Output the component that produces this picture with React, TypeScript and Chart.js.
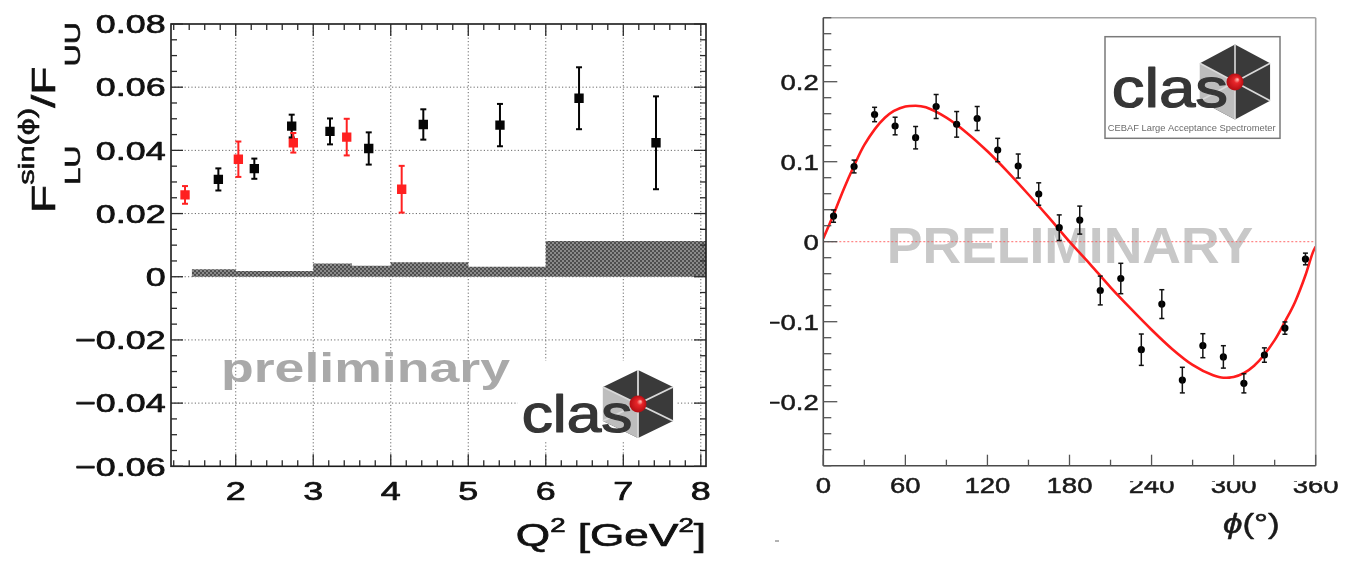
import React, { useEffect, useRef } from "react";
import { Chart, registerables } from "chart.js";

Chart.register(...registerables);

const FONT = '"Liberation Sans", Arial, Helvetica, sans-serif';

// ---------- Left panel: F_LU^{sin(phi)}/F_UU vs Q^2 ----------
const q2Black = [1.776, 2.24, 2.722, 3.216, 3.716, 4.42, 5.409, 6.429, 7.422];
const fluBlack = [0.0308, 0.0342, 0.0477, 0.046, 0.0406, 0.0482, 0.048, 0.0565, 0.0424];
const errBlack = [0.0035, 0.0032, 0.0036, 0.0041, 0.0051, 0.0048, 0.0067, 0.0098, 0.0147];
const q2Red = [1.346, 2.034, 2.743, 3.432, 4.141];
const fluRed = [0.0259, 0.0372, 0.0424, 0.0442, 0.0277];
const errRed = [0.0028, 0.0056, 0.0031, 0.0058, 0.0074];
const sysBinEdges = [1.432, 2.0, 3.0, 3.5, 4.0, 5.0, 6.0, 7.0, 8.067];
const sysBinValues = [0.003, 0.0024, 0.0018, 0.0042, 0.0035, 0.0046, 0.0032, 0.0113];
const leftYTicks = [0.08, 0.06, 0.04, 0.02, 0, -0.02, -0.04, -0.06];
const leftYTickLabels = ["0.08", "0.06", "0.04", "0.02", "0", "\u22120.02", "\u22120.04", "\u22120.06"];
const leftXTicks = [2, 3, 4, 5, 6, 7, 8];
const leftXTickLabels = ["2", "3", "4", "5", "6", "7", "8"];

// ---------- Right panel: asymmetry vs phi ----------
const phiBins = [7.5, 22.5, 37.5, 52.5, 67.5, 82.5, 97.5, 112.5, 127.5, 142.5, 157.5, 172.5, 187.5, 202.5, 217.5, 232.5, 247.5, 262.5, 277.5, 292.5, 307.5, 322.5, 337.5, 352.5];
const bsaValues = [0.032, 0.094, 0.159, 0.1446, 0.13, 0.169, 0.1467, 0.154, 0.1146, 0.0946, 0.0596, 0.0175, 0.027, -0.061, -0.046, -0.135, -0.078, -0.173, -0.13, -0.144, -0.177, -0.1417, -0.108, -0.0216];
const bsaErrors = [0.0077, 0.008, 0.009, 0.011, 0.014, 0.015, 0.016, 0.015, 0.0146, 0.015, 0.014, 0.016, 0.0175, 0.018, 0.019, 0.0196, 0.018, 0.016, 0.015, 0.014, 0.012, 0.009, 0.0077, 0.0073];
const fitPhi = [0, 7.5, 15, 22.5, 30, 45, 60, 67.5, 75, 90, 105, 120, 135, 150, 165, 180, 195, 210, 225, 240, 255, 270, 285, 292.5, 300, 315, 330, 337.5, 345, 352.5, 358, 360];
const fitValues = [0.004, 0.034, 0.066, 0.095, 0.121, 0.155, 0.169, 0.17, 0.168, 0.155, 0.136, 0.113, 0.087, 0.059, 0.03, 0.0, -0.028, -0.057, -0.084, -0.11, -0.134, -0.154, -0.167, -0.17, -0.169, -0.155, -0.123, -0.1, -0.075, -0.042, -0.013, -0.006];
const zeroLinePhi = [0, 360];
const zeroLineValues = [0, 0];
const rightYTicks = [0.2, 0.1, 0, -0.1, -0.2];
const rightYTickLabels = ["0.2", "0.1", "0", "\u22120.1", "\u22120.2"];
const rightXTicks = [0, 60, 120, 180, 240, 300, 360];
const rightXTickLabels = ["0", "60", "120", "180", "240", "300", "360"];

// ---------- helpers ----------
function seg(ctx: any, x1: number, y1: number, x2: number, y2: number) {
  ctx.beginPath();
  ctx.moveTo(x1, y1);
  ctx.lineTo(x2, y2);
  ctx.stroke();
}

function sText(ctx: any, text: string, x: number, y: number, font: string, sx: number, align: string, color: string, strokeW = 0) {
  ctx.save();
  ctx.font = font;
  ctx.textAlign = "left";
  ctx.textBaseline = "alphabetic";
  ctx.fillStyle = color;
  const w = ctx.measureText(text).width * sx;
  const x0 = align === "right" ? x - w : align === "center" ? x - w / 2 : x;
  ctx.translate(x0, y);
  ctx.scale(sx, 1);
  ctx.fillText(text, 0, 0);
  if (strokeW > 0) {
    ctx.strokeStyle = color;
    ctx.lineWidth = strokeW;
    ctx.lineJoin = "round";
    ctx.strokeText(text, 0, 0);
  }
  ctx.restore();
  return w;
}

// pieces: {t, font, dy}
function richText(ctx: any, pieces: any[], x: number, y: number, sx: number, align: string, color: string, strokeW = 0) {
  ctx.save();
  let total = 0;
  pieces.forEach((p) => {
    ctx.font = p.font;
    total += ctx.measureText(p.t).width * sx;
  });
  let cx = align === "right" ? x - total : align === "center" ? x - total / 2 : x;
  pieces.forEach((p) => {
    cx += sText(ctx, p.t, cx, y + (p.dy || 0), p.font, sx, "left", color, strokeW);
  });
  ctx.restore();
}

function drawLogo(ctx: any, cx: number, cy: number, R: number, hx: number, textLeft: number, textBase: number, fontPx: number, textSx: number, ballR: number) {
  ctx.save();
  ctx.translate(cx, cy);
  ctx.scale(hx, 1);
  const v: number[][] = [];
  for (let i = 0; i < 6; i++) {
    const a = ((-90 + 60 * i) * Math.PI) / 180;
    v.push([R * Math.cos(a), R * Math.sin(a)]);
  }
  ctx.beginPath();
  v.forEach((p, i) => (i === 0 ? ctx.moveTo(p[0], p[1]) : ctx.lineTo(p[0], p[1])));
  ctx.closePath();
  ctx.fillStyle = "#3a3a3a";
  ctx.fill();
  ctx.beginPath();
  ctx.moveTo(v[5][0], v[5][1]);
  ctx.lineTo(0, 0);
  ctx.lineTo(v[3][0], v[3][1]);
  ctx.lineTo(v[4][0], v[4][1]);
  ctx.closePath();
  ctx.fillStyle = "#bdbdbd";
  ctx.fill();
  ctx.strokeStyle = "#d9d9d9";
  ctx.lineWidth = 1.5;
  v.forEach((p) => seg(ctx, 0, 0, p[0], p[1]));
  ctx.restore();
  sText(ctx, "clas", textLeft, textBase, `${fontPx}px ${FONT}`, textSx, "left", "#363636", 1.2);
  ctx.save();
  const g = ctx.createRadialGradient(cx + ballR * 0.3, cy - ballR * 0.3, 0.5, cx, cy, ballR);
  g.addColorStop(0, "#ffb0a8");
  g.addColorStop(0.3, "#e8262a");
  g.addColorStop(1, "#b30d12");
  ctx.fillStyle = g;
  ctx.beginPath();
  ctx.arc(cx, cy, ballR, 0, Math.PI * 2);
  ctx.fill();
  ctx.restore();
}

const errorBars = {
  id: "errorBars",
  afterDatasetsDraw(chart: any) {
    const { ctx, scales } = chart;
    chart.data.datasets.forEach((ds: any) => {
      if (!ds.errors) return;
      ctx.save();
      ctx.strokeStyle = ds.errColor;
      ctx.lineWidth = ds.errWidth;
      ds.data.forEach((p: any, i: number) => {
        const e = ds.errors[i];
        const px = scales.x.getPixelForValue(p.x);
        const yt = scales.y.getPixelForValue(p.y + e);
        const yb = scales.y.getPixelForValue(p.y - e);
        seg(ctx, px, yt, px, yb);
        seg(ctx, px - ds.capHalf, yt, px + ds.capHalf, yt);
        seg(ctx, px - ds.capHalf, yb, px + ds.capHalf, yb);
      });
      ctx.restore();
    });
  },
};

// ---------- left decorations ----------
const leftDecor = {
  id: "leftDecor",
  beforeDatasetsDraw(chart: any) {
    const { ctx, chartArea: a, scales } = chart;
    const x = scales.x, y = scales.y;
    ctx.save();
    ctx.strokeStyle = "#6a6a6a";
    ctx.lineWidth = 1;
    ctx.setLineDash([1.2, 2.2]);
    leftXTicks.forEach((v) => {
      const px = x.getPixelForValue(v);
      seg(ctx, px, a.top, px, a.bottom);
    });
    leftYTicks.forEach((v) => {
      const py = y.getPixelForValue(v);
      if (py > a.top + 1 && py < a.bottom - 1) seg(ctx, a.left, py, a.right, py);
    });
    ctx.restore();
    sText(ctx, "preliminary", a.left + 50, a.top + 358, `bold 40px ${FONT}`, 1.34, "left", "#a9a9a9");
  },
  afterDatasetsDraw(chart: any) {
    const { ctx, chartArea: a, scales } = chart;
    const x = scales.x, y = scales.y;
    // logo
    ctx.save();
    ctx.fillStyle = "#ffffff";
    ctx.fillRect(a.left + 347, a.top + 337, 158, 80);
    ctx.restore();
    drawLogo(ctx, a.left + 467, a.top + 380, 34, 1.19, a.left + 350.7, a.top + 407.7, 51, 1.22, 8.5);
    // frame
    ctx.save();
    ctx.strokeStyle = "#1a1a1a";
    ctx.lineWidth = 1.6;
    ctx.strokeRect(a.left, a.top, a.right - a.left, a.bottom - a.top);
    ctx.lineWidth = 1.3;
    ctx.strokeStyle = "#2a2a2a";
    for (let k = -12; k <= 16; k++) {
      const py = y.getPixelForValue(k * 0.005);
      const L = k % 4 === 0 ? 12 : 6;
      seg(ctx, a.left, py, a.left + L, py);
      seg(ctx, a.right, py, a.right - L, py);
    }
    for (let k = 6; k <= 40; k++) {
      const px = x.getPixelForValue(k * 0.2);
      const L = k % 5 === 0 ? 12 : 6;
      seg(ctx, px, a.bottom, px, a.bottom - L);
      seg(ctx, px, a.top, px, a.top + L);
    }
    ctx.restore();
  },
  afterDraw(chart: any) {
    const { ctx, chartArea: a, scales } = chart;
    const x = scales.x, y = scales.y;
    const f = `26px ${FONT}`;
    leftYTicks.forEach((v, i) => {
      sText(ctx, leftYTickLabels[i], a.left - 5.3, y.getPixelForValue(v) + 9.3, f, 1.38, "right", "#111", 0.7);
    });
    leftXTicks.forEach((v, i) => {
      sText(ctx, leftXTickLabels[i], x.getPixelForValue(v), a.bottom + 33.5, f, 1.38, "center", "#111", 0.7);
    });
    // x title
    richText(
      ctx,
      [
        { t: "Q", font: `32px ${FONT}` },
        { t: "2", font: `20px ${FONT}`, dy: -14 },
        { t: " [GeV", font: `32px ${FONT}` },
        { t: "2", font: `20px ${FONT}`, dy: -14 },
        { t: "]", font: `32px ${FONT}` },
      ],
      a.right,
      a.bottom + 80,
      1.38,
      "right",
      "#111",
      0.7
    );
    // y title (rotated)
    ctx.save();
    ctx.translate(55, a.top + 189);
    ctx.rotate(-Math.PI / 2);
    ctx.scale(1.4, 1);
    ctx.fillStyle = "#111";
    ctx.strokeStyle = "#111";
    ctx.lineWidth = 0.6;
    ctx.textBaseline = "alphabetic";
    ctx.textAlign = "left";
    const put = (t: string, px: number, py: number) => {
      ctx.fillText(t, px, py);
      ctx.strokeText(t, px, py);
    };
    let cx = 0;
    ctx.font = `33px ${FONT}`;
    put("F", cx, 0);
    cx += ctx.measureText("F").width;
    ctx.font = `22px ${FONT}`;
    put("sin(\u03d5)", cx, -21);
    const supW = ctx.measureText("sin(\u03d5)").width;
    put("LU", cx, 25);
    const subW = ctx.measureText("LU").width;
    cx += Math.max(supW, subW);
    ctx.font = `33px ${FONT}`;
    put("/F", cx, 0);
    cx += ctx.measureText("/F").width;
    ctx.font = `22px ${FONT}`;
    put("UU", cx, 25);
    ctx.restore();
  },
};

// ---------- right decorations ----------
const rightDecor = {
  id: "rightDecor",
  beforeDatasetsDraw(chart: any) {
    const { ctx, chartArea: a } = chart;
    sText(ctx, "PRELIMINARY", a.left + 63.4, a.top + 245.3, `bold 50px ${FONT}`, 1.07, "left", "#c8c8c8");
  },
  afterDatasetsDraw(chart: any) {
    const { ctx, chartArea: a, scales } = chart;
    const x = scales.x, y = scales.y;
    // logo box
    ctx.save();
    ctx.fillStyle = "#ffffff";
    ctx.fillRect(a.left + 281.7, a.top + 19, 175, 101.6);
    ctx.strokeStyle = "#7a7a7a";
    ctx.lineWidth = 1.5;
    ctx.strokeRect(a.left + 281.7, a.top + 19, 175, 101.6);
    ctx.restore();
    drawLogo(ctx, a.left + 411.7, a.top + 64.3, 37.5, 1.08, a.left + 288.4, a.top + 89, 55, 1.19, 8.5);
    sText(ctx, "CEBAF Large Acceptance Spectrometer", a.left + 284.5, a.top + 112.8, `8.5px ${FONT}`, 1.1, "left", "#6a6a6a");
    // frame
    ctx.save();
    ctx.lineWidth = 1.6;
    ctx.strokeStyle = "#a3a3a3";
    seg(ctx, a.left, a.top, a.right, a.top);
    seg(ctx, a.right, a.top, a.right, a.bottom);
    ctx.strokeStyle = "#4a4a4a";
    seg(ctx, a.left, a.top, a.left, a.bottom);
    seg(ctx, a.left, a.bottom, a.right, a.bottom);
    ctx.lineWidth = 1.3;
    ctx.strokeStyle = "#555";
    for (let k = -14; k <= 14; k++) {
      const py = y.getPixelForValue(k * 0.02);
      const L = k % 5 === 0 ? 14 : 8;
      seg(ctx, a.left, py, a.left + L, py);
    }
    for (let k = 0; k <= 12; k++) {
      const px = x.getPixelForValue(k * 30);
      const L = k % 2 === 0 ? 11 : 6;
      seg(ctx, px, a.bottom, px, a.bottom - L);
    }
    ctx.restore();
  },
  afterDraw(chart: any) {
    const { ctx, chartArea: a, scales, width } = chart;
    const x = scales.x, y = scales.y;
    const f = `22px ${FONT}`;
    rightYTicks.forEach((v, i) => {
      sText(ctx, rightYTickLabels[i], a.left - 4.5, y.getPixelForValue(v) + 7.9, f, 1.25, "right", "#1a1a1a", 0.5);
    });
    rightXTicks.forEach((v, i) => {
      ctx.save();
      if (v >= 240) {
        ctx.beginPath();
        ctx.rect(0, a.bottom + 15.5, width, 100);
        ctx.clip();
      }
      sText(ctx, rightXTickLabels[i], x.getPixelForValue(v), a.bottom + 27.3, f, 1.25, "center", "#1a1a1a", 0.5);
      ctx.restore();
    });
    richText(
      ctx,
      [
        { t: "\u03d5", font: `italic 28px ${FONT}` },
        { t: "(\u00b0)", font: `28px ${FONT}` },
      ],
      a.left + 399.7,
      a.bottom + 67.3,
      1.25,
      "left",
      "#1a1a1a",
      0.5
    );
    ctx.save();
    ctx.strokeStyle = "#666";
    ctx.lineWidth = 1;
    seg(ctx, 5, 541, 9, 541);
    ctx.restore();
  },
};

function makePattern(ctx: any) {
  const c = document.createElement("canvas");
  c.width = 4;
  c.height = 4;
  const g = c.getContext("2d")!;
  g.fillStyle = "#8a8a8a";
  g.fillRect(0, 0, 4, 4);
  g.fillStyle = "#4e4e4e";
  g.fillRect(0, 0, 2, 2);
  g.fillRect(2, 2, 2, 2);
  return ctx.createPattern(c, "repeat");
}

export default function App() {
  const leftRef = useRef<HTMLCanvasElement>(null);
  const rightRef = useRef<HTMLCanvasElement>(null);

  useEffect(() => {
    const lc = leftRef.current!;
    const rc = rightRef.current!;
    const pattern = makePattern(lc.getContext("2d"));

    const left = new Chart(lc, {
      type: "scatter",
      data: {
        datasets: [
          {
            label: "black",
            data: q2Black.map((q, i) => ({ x: q, y: fluBlack[i] })),
            pointStyle: "rect",
            pointRadius: 6.6,
            backgroundColor: "#050505",
            borderWidth: 0,
            errors: errBlack,
            errColor: "#050505",
            errWidth: 2,
            capHalf: 3,
          } as any,
          {
            label: "red",
            data: q2Red.map((q, i) => ({ x: q, y: fluRed[i] })),
            pointStyle: "rect",
            pointRadius: 6.6,
            backgroundColor: "#ff2121",
            borderWidth: 0,
            errors: errRed,
            errColor: "#ff2121",
            errWidth: 2,
            capHalf: 3,
          } as any,
          {
            type: "line",
            label: "sys",
            data: sysBinEdges.map((e, i) => ({ x: e, y: sysBinValues[Math.min(i, sysBinValues.length - 1)] })),
            stepped: "after",
            fill: "origin",
            backgroundColor: pattern,
            borderWidth: 0,
            pointRadius: 0,
          } as any,
        ],
      },
      options: {
        animation: false,
        responsive: false,
        events: [],
        layout: { padding: { left: 171, right: 14, top: 24, bottom: 94.7 } },
        scales: {
          x: { type: "linear", min: 1.165, max: 8.067, display: false },
          y: { type: "linear", min: -0.06, max: 0.08, display: false },
        },
        plugins: { legend: { display: false }, tooltip: { enabled: false } },
      } as any,
      plugins: [leftDecor, errorBars],
    });

    const right = new Chart(rc, {
      type: "scatter",
      data: {
        datasets: [
          {
            label: "data",
            data: phiBins.map((p, i) => ({ x: p, y: bsaValues[i] })),
            pointStyle: "circle",
            pointRadius: 3.6,
            backgroundColor: "#000",
            borderWidth: 0,
            errors: bsaErrors,
            errColor: "#111",
            errWidth: 1.5,
            capHalf: 2.5,
          } as any,
          {
            type: "line",
            label: "fit",
            data: fitPhi.map((p, i) => ({ x: p, y: fitValues[i] })),
            borderColor: "#ff1c1c",
            borderWidth: 2.6,
            pointRadius: 0,
            cubicInterpolationMode: "monotone",
            fill: false,
          } as any,
          {
            type: "line",
            label: "zero",
            data: zeroLinePhi.map((p, i) => ({ x: p, y: zeroLineValues[i] })),
            borderColor: "rgba(255,80,80,0.85)",
            borderWidth: 1,
            borderDash: [2, 2],
            pointRadius: 0,
            fill: false,
          } as any,
        ],
      },
      options: {
        animation: false,
        responsive: false,
        events: [],
        layout: { padding: { left: 53.3, right: 35.3, top: 17.7, bottom: 95.3 } },
        scales: {
          x: { type: "linear", min: 0, max: 360, display: false },
          y: { type: "linear", min: -0.28, max: 0.28, display: false },
        },
        plugins: { legend: { display: false }, tooltip: { enabled: false } },
      } as any,
      plugins: [rightDecor, errorBars],
    });

    return () => {
      left.destroy();
      right.destroy();
    };
  }, []);

  return (
    <div style={{ position: "absolute", left: 0, top: 0, width: 1351, height: 561, background: "#fff", overflow: "hidden" }}>
      <canvas ref={leftRef} width={720} height={561} style={{ position: "absolute", left: 0, top: 0, width: 720, height: 561 }} />
      <canvas ref={rightRef} width={581} height={561} style={{ position: "absolute", left: 770, top: 0, width: 581, height: 561 }} />
    </div>
  );
}
